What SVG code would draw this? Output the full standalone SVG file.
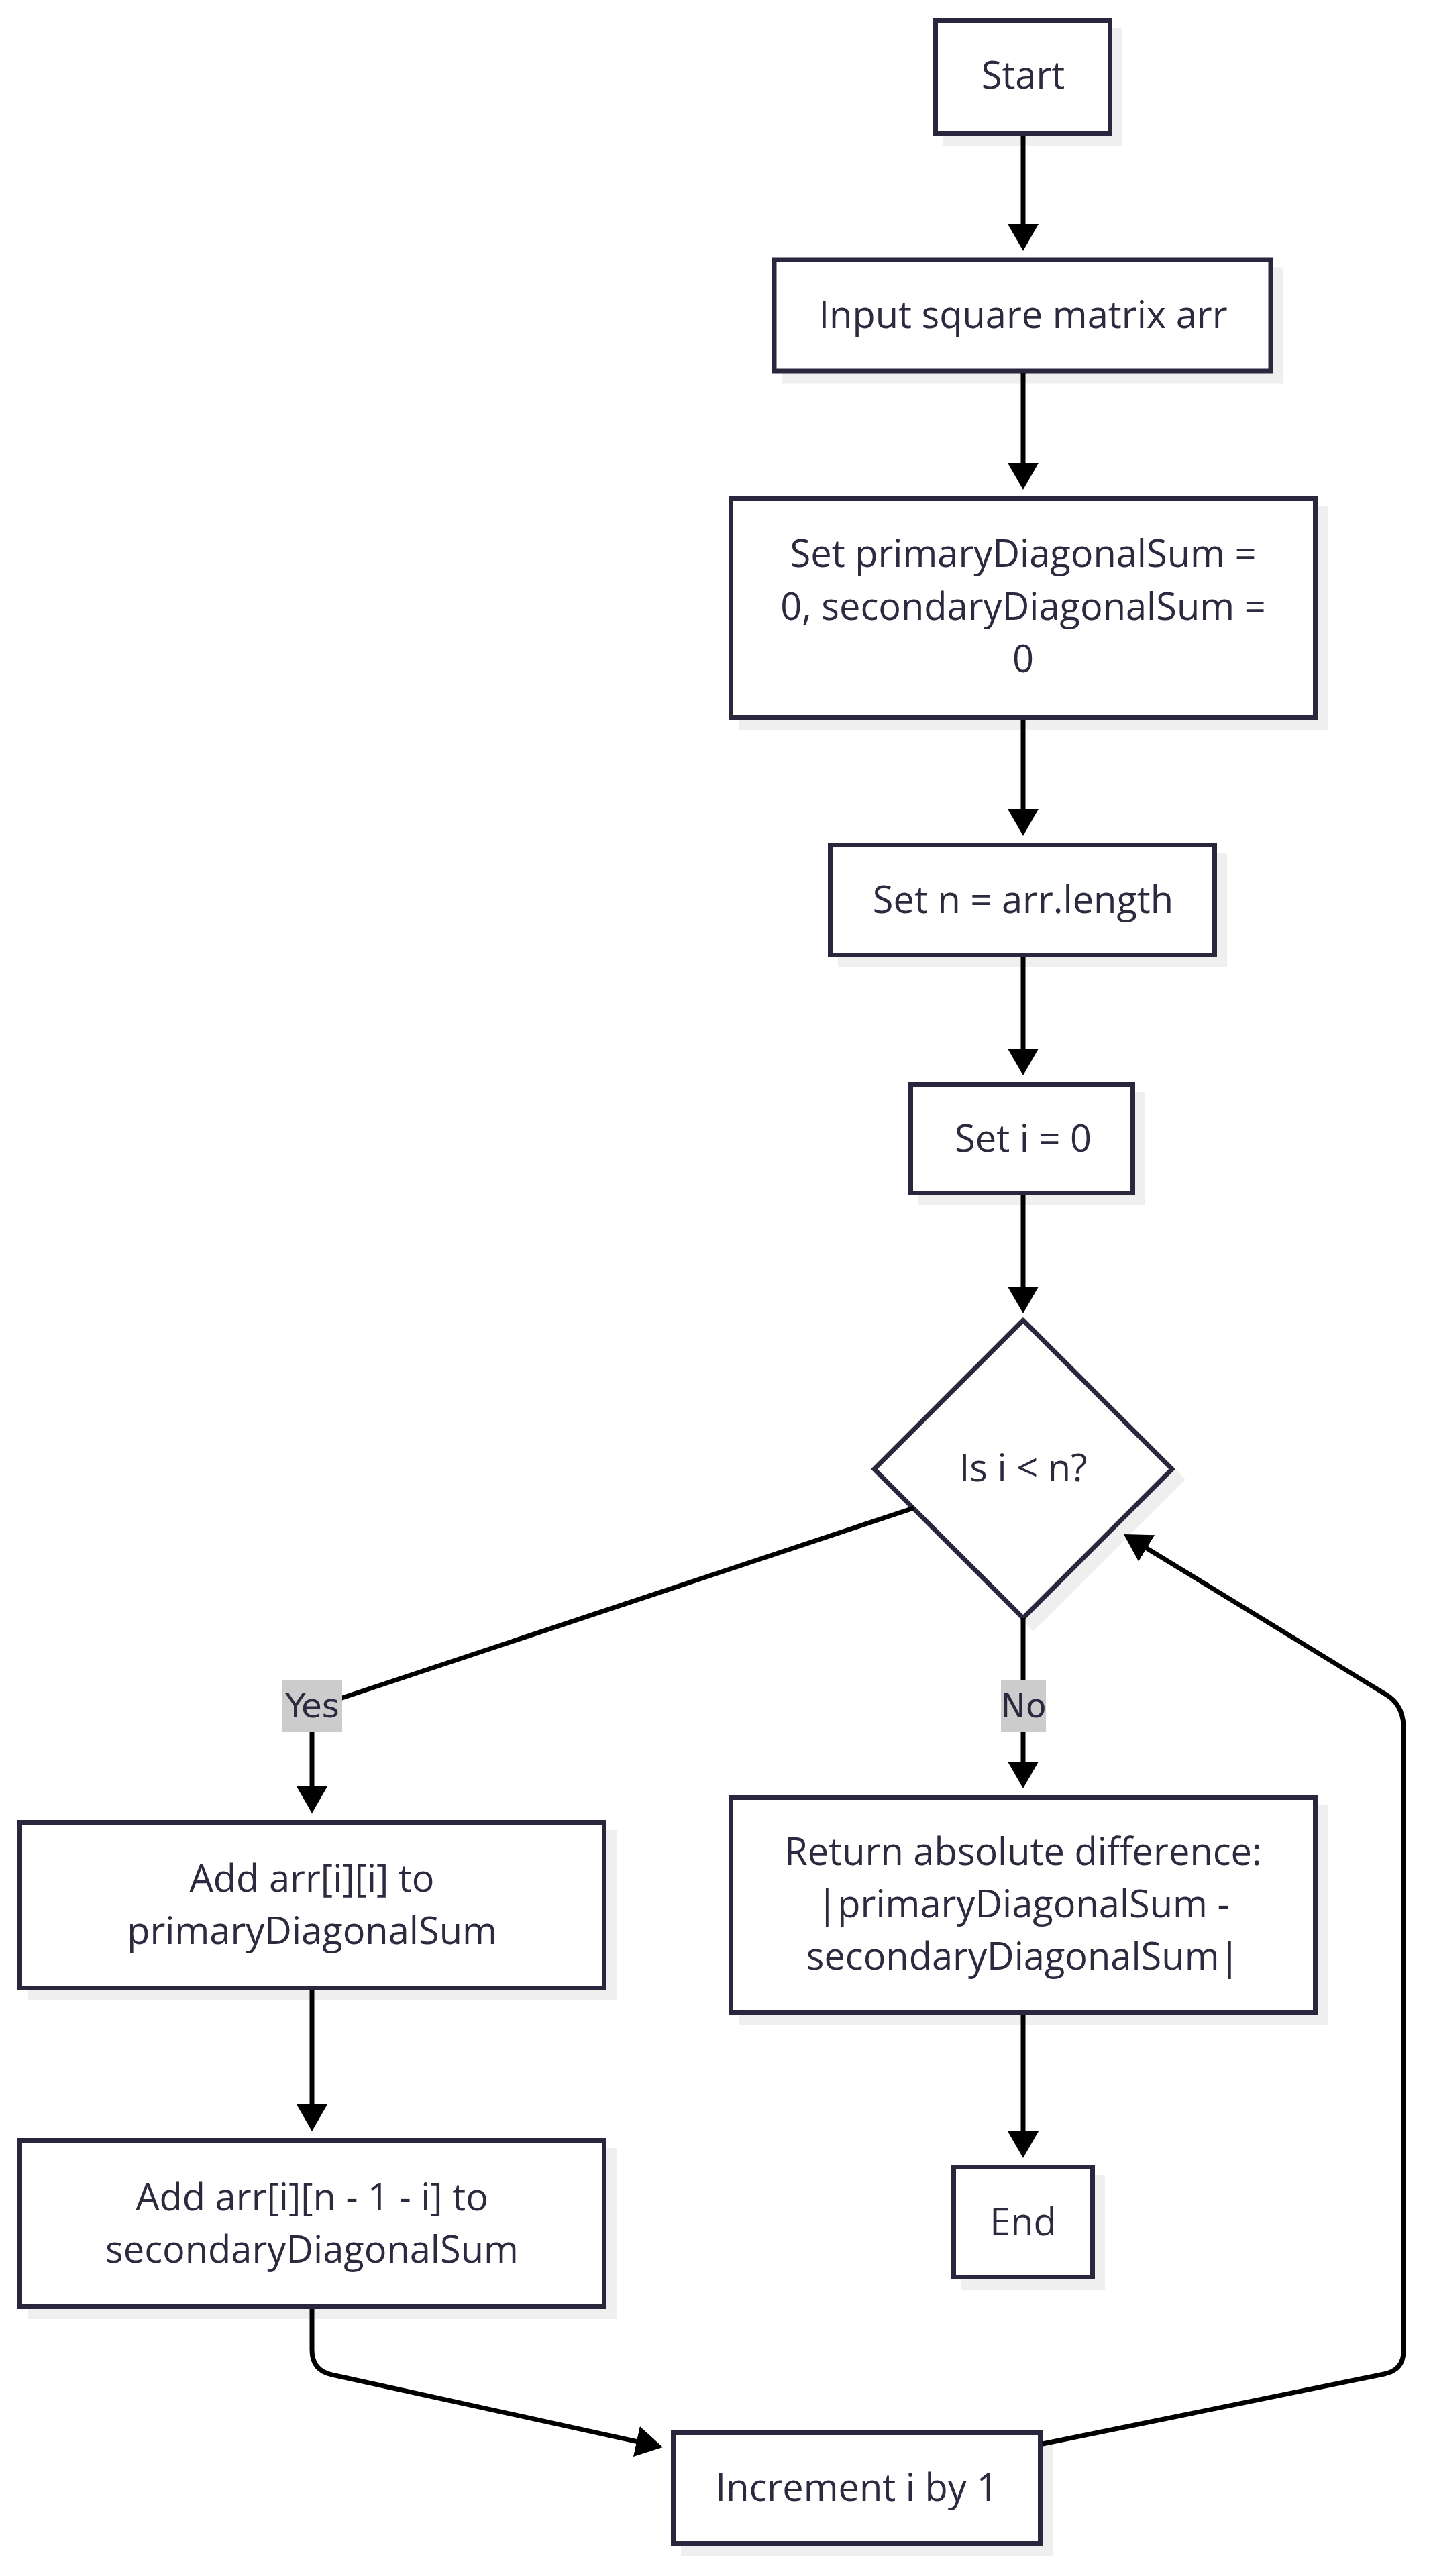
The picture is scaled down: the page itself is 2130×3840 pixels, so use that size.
<svg xmlns="http://www.w3.org/2000/svg" width="2130" height="3840" viewBox="0 0 2130 3840">
<defs>
<style>
.box{fill:#ffffff;stroke:#28273d;stroke-width:7}
.shadow{fill:#efefef;stroke:#efefef;stroke-width:7}
.t{font-family:"Open Sans","Noto Sans","Liberation Sans",sans-serif;font-size:56px;fill:#2b2a3f;text-anchor:middle}
.lbl{font-family:"DejaVu Sans","Liberation Sans",sans-serif;font-size:50px;fill:#2b2a3f;text-anchor:middle}
.lblbg{fill:#cccccc}
.edge{fill:none;stroke:#000000;stroke-width:7}
</style>
<marker id="arrow" markerUnits="userSpaceOnUse" markerWidth="40" markerHeight="46" refX="30" refY="23" orient="auto" viewBox="0 0 40 46">
<path d="M0,0 L40,23 L0,46 z" fill="#000000"/>
</marker>
</defs>
<rect width="2130" height="3840" fill="#ffffff"/>

<g id="start">
<rect class="shadow" x="1409.5" y="45.5" width="260" height="168"/>
<rect class="box" x="1394.5" y="30.5" width="260" height="168"/>
<text class="t" x="1525" y="132">Start</text>
</g>

<g id="input">
<rect class="shadow" x="1169" y="402" width="740" height="166"/>
<rect class="box" x="1154" y="387" width="740" height="166"/>
<text class="t" x="1525" y="489">Input square matrix arr</text>
</g>

<g id="initSums">
<rect class="shadow" x="1104.5" y="758.5" width="871" height="326"/>
<rect class="box" x="1089.5" y="743.5" width="871" height="326"/>
<text class="t" x="1525" y="845">Set primaryDiagonalSum =</text>
<text class="t" x="1525" y="923.5">0, secondaryDiagonalSum =</text>
<text class="t" x="1525" y="1002">0</text>
</g>

<g id="setN">
<rect class="shadow" x="1252.5" y="1274.5" width="573" height="164"/>
<rect class="box" x="1237.5" y="1259.5" width="573" height="164"/>
<text class="t" x="1525" y="1361">Set n = arr.length</text>
</g>

<g id="setI">
<rect class="shadow" x="1372.5" y="1631.5" width="331" height="162"/>
<rect class="box" x="1357.5" y="1616.5" width="331" height="162"/>
<text class="t" x="1525" y="1717">Set i = 0</text>
</g>

<g id="decision">
<polygon class="shadow" points="1540,1983 1762,2205 1540,2427 1318,2205"/>
<polygon class="box" points="1525,1968 1747,2190 1525,2412 1303,2190"/>
<text class="t" x="1525" y="2208">Is i &lt; n?</text>
</g>

<g id="addPrimary">
<rect class="shadow" x="44.5" y="2731.5" width="871" height="247"/>
<rect class="box" x="29.5" y="2716.5" width="871" height="247"/>
<text class="t" x="465" y="2820">Add arr[i][i] to</text>
<text class="t" x="465" y="2898">primaryDiagonalSum</text>
</g>

<g id="returnDiff">
<rect class="shadow" x="1104.5" y="2694.5" width="871" height="321"/>
<rect class="box" x="1089.5" y="2679.5" width="871" height="321"/>
<text class="t" x="1525" y="2780">Return absolute difference:</text>
<text class="t" x="1525" y="2858">|primaryDiagonalSum -</text>
<text class="t" x="1525" y="2936">secondaryDiagonalSum|</text>
</g>

<g id="addSecondary">
<rect class="shadow" x="44.5" y="3205.5" width="871" height="248"/>
<rect class="box" x="29.5" y="3190.5" width="871" height="248"/>
<text class="t" x="465" y="3295">Add arr[i][n - 1 - i] to</text>
<text class="t" x="465" y="3373">secondaryDiagonalSum</text>
</g>

<g id="end">
<rect class="shadow" x="1436.5" y="3245.5" width="207" height="164"/>
<rect class="box" x="1421.5" y="3230.5" width="207" height="164"/>
<text class="t" x="1525" y="3332">End</text>
</g>

<g id="increment">
<rect class="shadow" x="1018.5" y="3641.5" width="547" height="165"/>
<rect class="box" x="1003.5" y="3626.5" width="547" height="165"/>
<text class="t" x="1277" y="3728">Increment i by 1</text>
</g>

<g id="edges">
<path class="edge" d="M1525,202 V364" marker-end="url(#arrow)"/>
<path class="edge" d="M1525,556 V720" marker-end="url(#arrow)"/>
<path class="edge" d="M1525,1073 V1236" marker-end="url(#arrow)"/>
<path class="edge" d="M1525,1427 V1593" marker-end="url(#arrow)"/>
<path class="edge" d="M1525,1782 V1948" marker-end="url(#arrow)"/>
<path class="edge" d="M1362,2248 L493.5,2536.5 Q465,2546 465,2576 V2693" marker-end="url(#arrow)"/>
<path class="edge" d="M1525,2412 V2656" marker-end="url(#arrow)"/>
<path class="edge" d="M465,2967 V3167" marker-end="url(#arrow)"/>
<path class="edge" d="M1525,3004 V3207" marker-end="url(#arrow)"/>
<path class="edge" d="M465,3442 V3503 Q465,3533.5 494.3,3539.9 L978.2,3645.9" marker-end="url(#arrow)"/>
<path class="edge" d="M1554,3643 L2063,3539 Q2092,3533 2092,3505 V2575 Q2092,2542 2066.4,2526.3 L1683.5,2292.2" marker-end="url(#arrow)"/>
<g id="label-yes">
<rect class="lblbg" x="421" y="2504" width="89" height="78"/>
<text class="lbl" x="465.5" y="2560">Yes</text>
</g>
<g id="label-no">
<rect class="lblbg" x="1492" y="2504" width="67" height="78"/>
<text class="lbl" x="1525.5" y="2560">No</text>
</g>
</g>
</svg>
